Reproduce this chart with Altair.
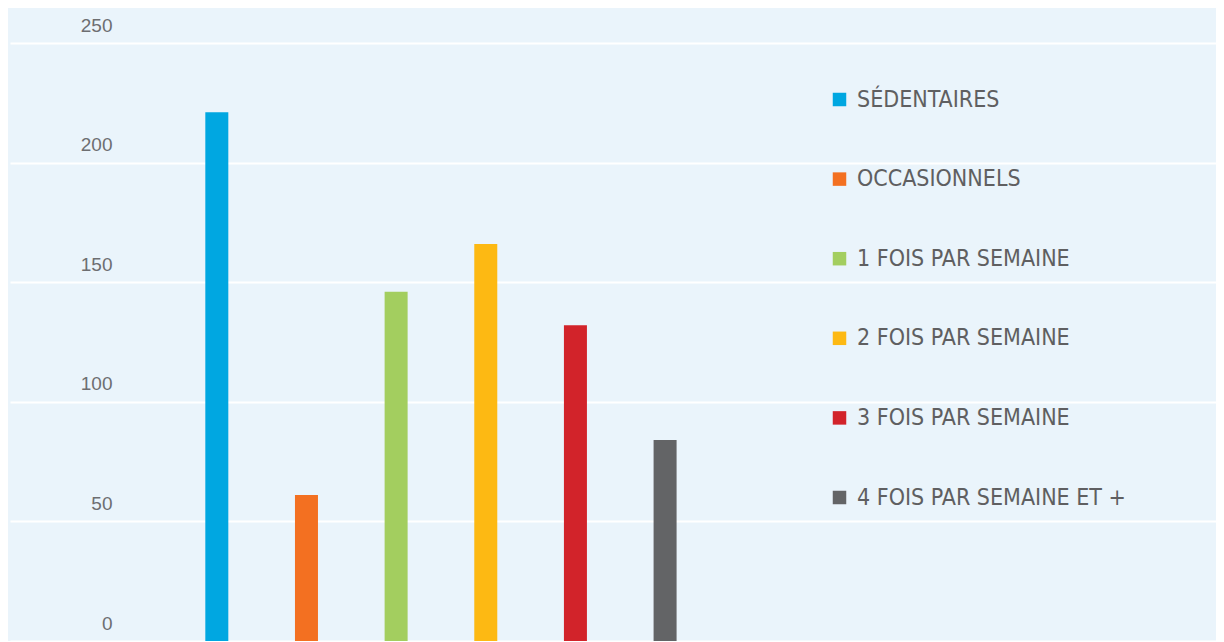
import altair as alt
import pandas as pd

categories = ["SÉDENTAIRES", "OCCASIONNELS", "1 FOIS PAR SEMAINE",
              "2 FOIS PAR SEMAINE", "3 FOIS PAR SEMAINE", "4 FOIS PAR SEMAINE ET +"]
positions = [0, 1, 2, 3, 4, 5]
values = [221, 61, 146, 166, 132, 84]
colors = ["#00A7E1", "#F37021", "#A3CE5F", "#FDB913", "#D2232A", "#636466"]
y_ticks = [0, 50, 100, 150, 200, 250]

df = pd.DataFrame({"cat": categories, "pos": positions, "val": values})

BG = "#EAF4FB"

chart = alt.Chart(df).mark_bar(size=23).encode(
    x=alt.X("pos:Q", axis=None,
            scale=alt.Scale(domain=[-2.251, 11.089], nice=False, zero=False)),
    y=alt.Y("val:Q", scale=alt.Scale(domain=[0, 250], nice=False),
            axis=alt.Axis(values=y_ticks, title=None, domain=False, ticks=False, tickSize=0,
                          grid=True, gridColor="white", gridWidth=2, gridOpacity=1,
                          labelAlign="right", labelBaseline="alphabetic",
                          labelPadding=-102, labelOffset=-12,
                          labelFont="Liberation Sans", labelFontSize=19,
                          labelColor="#6D6E71")),
    color=alt.Color("cat:N", sort=categories,
                    scale=alt.Scale(domain=categories, range=colors),
                    legend=alt.Legend(title=None, orient="none", legendX=818, legendY=45,
                                      symbolType="square", symbolSize=182,
                                      symbolStrokeWidth=0, symbolOpacity=1,
                                      labelFont="DejaVu Sans Condensed, Liberation Sans",
                                      labelFontSize=23,
                                      labelColor="#5F5F61", labelOffset=6,
                                      rowPadding=55.6, padding=0, labelLimit=400)),
).properties(
    width=1206, height=598,
    autosize=alt.AutoSizeParams(type="none"),
    padding={"left": 2, "top": 35, "right": 0, "bottom": 0},
    background=BG,
).configure_view(fill=BG, stroke=None)

chart.save("out.html", embed_options={"renderer": "svg", "actions": False})
